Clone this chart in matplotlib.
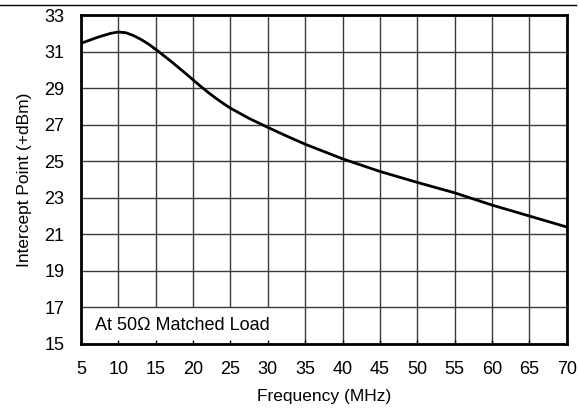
import matplotlib.pyplot as plt
from matplotlib.lines import Line2D

plt.rcParams['font.family'] = ['Liberation Sans', 'DejaVu Sans']

# curve
freq = [5, 6, 7, 8, 9, 10, 11, 12, 13, 14, 15, 16, 17, 18, 19, 20, 21, 22, 23, 24,
        25, 27.5, 30, 32.5, 35, 40, 45, 50, 55, 60, 65, 70]
ip = [31.45, 31.6, 31.75, 31.88, 32.0, 32.07, 32.03, 31.88, 31.67, 31.42,
      31.12, 30.8, 30.48, 30.14, 29.8, 29.45, 29.1, 28.77, 28.46, 28.17,
      27.9, 27.34, 26.85, 26.38, 25.93, 25.13, 24.44, 23.84, 23.27, 22.6, 22.0, 21.4]

xticks = list(range(5, 71, 5))
yticks = list(range(15, 34, 2))

fig = plt.figure(figsize=(5.79, 4.08), dpi=100)
ax = fig.add_axes([0.1399, 0.1569, 0.8391, 0.8063])

ax.set_xlim(5, 70)
ax.set_ylim(15, 33)

# grid, with the corner under the note left clear
for x in xticks:
    y0 = 17 if x < 35 else 15
    ax.vlines(x, y0, 33, color='#3a3a3a', lw=1.0, zorder=1.5)
ax.hlines(yticks, 5, 70, color='#3a3a3a', lw=1.0, zorder=1.6)

ax.plot(freq, ip, color='black', lw=2.0, zorder=3, solid_capstyle='butt')

ax.text(6.9, 16.0, 'At 50\u03a9 Matched Load', fontsize=13, va='center', ha='left', zorder=4)

ax.set_xticks(xticks)
ax.set_yticks(yticks)
ax.tick_params(axis='x', direction='in', length=3, width=1, pad=12, labelsize=13)
ax.tick_params(axis='y', length=0, pad=12, labelsize=13)
for s in ax.spines.values():
    s.set_linewidth(2.0)

ax.set_xlabel('Frequency (MHz)', fontsize=12.5, labelpad=8)
ax.set_ylabel('Intercept Point (+dBm)', fontsize=12.5, labelpad=9)

fig.add_artist(Line2D([0, 0.995], [1 - 5 / 408, 1 - 5 / 408], color='black', lw=1.0))

fig.savefig('out.png', dpi=100)
